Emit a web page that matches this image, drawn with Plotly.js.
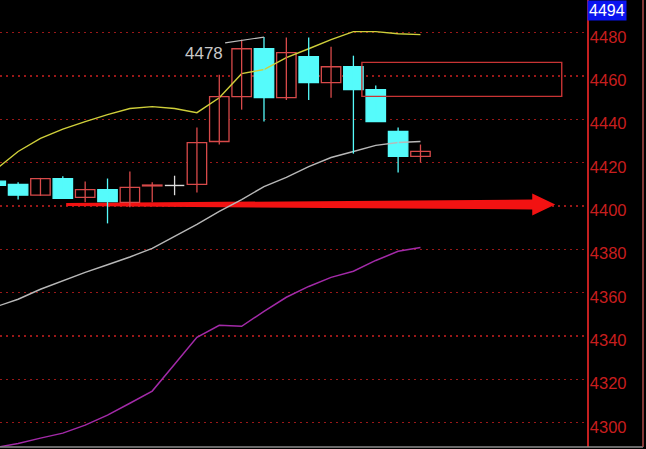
<!DOCTYPE html>
<html>
<head>
<meta charset="utf-8">
<script src="https://cdn.plot.ly/plotly-3.0.1.min.js"></script>
<style>
html,body{margin:0;padding:0;background:#000;}
#chart{width:646px;height:449px;}
</style>
</head>
<body>
<div id="chart"></div>
<script>
// ---- data ----
const idx   = [0,1,2,3,4,5,6,7,8,9,10,11,12,13,14,15,16,17,18,19];
const open  = [4411.5,4410.0,4405.0,4412.7,4404.0,4407.6,4401.7,4409.3,4409.5,4410.0,4429.8,4450.5,4472.6,4450.0,4468.9,4457.0,4464.3,4453.7,4434.4,4422.9];
const high  = [4412.5,4411.0,4413.0,4413.8,4411.3,4412.7,4416.0,4411.0,4414.0,4436.2,4460.6,4476.8,4478.0,4477.8,4477.8,4473.5,4469.4,4455.6,4436.2,4428.4];
const low   = [4408.0,4403.0,4404.7,4403.3,4401.7,4392.0,4399.4,4401.7,4405.0,4406.3,4428.4,4444.5,4439.0,4449.0,4449.0,4450.0,4424.2,4439.0,4415.5,4420.1];
const close = [4409.5,4405.0,4412.7,4403.5,4407.6,4402.0,4408.6,4409.7,4409.5,4429.3,4450.5,4472.6,4450.0,4470.8,4457.0,4464.3,4453.7,4439.0,4422.9,4425.2];
const upperBand = [4416.8,4425.2,4431.2,4435.5,4439.0,4442.2,4445.0,4445.9,4445.0,4443.1,4450.0,4461.1,4463.0,4468.5,4472.6,4476.8,4480.5,4480.5,4479.5,4479.1];
const midLine   = [4353.5,4357.0,4361.6,4365.5,4369.4,4372.9,4376.5,4380.5,4386.0,4391.5,4397.5,4403.0,4409.0,4413.2,4418.2,4422.4,4425.2,4428.0,4429.3,4429.8];
const lowerBand = [4288.6,4290.4,4292.9,4295.2,4298.9,4303.5,4309.0,4314.6,4327.0,4339.4,4345.0,4344.5,4351.4,4357.9,4362.9,4367.1,4369.9,4374.9,4379.1,4380.9];
const yTicks = [4300,4320,4340,4360,4380,4400,4420,4440,4460,4480];
const lastPriceLabel = '4494';
const highLabel = '4478';
const highIndex = 12;
const zone = {x0:16.38, x1:25.32, y0:4450.6, y1:4466.3};
const arrow = {from:3.15, shaftEnd:24.0, tip:25.03, level:4400.7};

// ---- styling ----
const RED = '#d84a4a', CYAN = '#55fbfb', WHITE = '#dcdcdc';
const BODY_W = 0.87;

// ---- build candle traces ----
function dirOf(i){ return close[i] > open[i] ? 'up' : (close[i] < open[i] ? 'down' : 'flat'); }
const groups = {up:[], down:[], flat:[]};
idx.forEach(i => groups[dirOf(i)].push(i));

function wickTrace(list, color){
  const x = [], y = [];
  list.forEach(i => { x.push(i, i, null); y.push(low[i], high[i], null); });
  return {type:'scatter', mode:'lines', x, y, line:{color, width:1.3}, hoverinfo:'skip'};
}
function flatTrace(list, color){
  const x = [], y = [];
  list.forEach(i => { x.push(i - BODY_W/2, i + BODY_W/2, null); y.push(open[i], open[i], null); });
  return {type:'scatter', mode:'lines', x, y, line:{color, width:1.4}, hoverinfo:'skip'};
}
function bodyTrace(list, fill, lineColor){
  return {type:'bar', x:list,
    base:list.map(i => Math.min(open[i], close[i])),
    y:list.map(i => Math.abs(close[i] - open[i])),
    width:list.map(() => BODY_W),
    marker:{color:fill, line:{color:lineColor, width:1.3}}, hoverinfo:'skip'};
}

const traces = [
  {type:'scatter', mode:'lines', x:idx, y:upperBand, line:{color:'#cfcf3a', width:1.4}, hoverinfo:'skip'},
  {type:'scatter', mode:'lines', x:idx, y:midLine,   line:{color:'#b8b8b8', width:1.4}, hoverinfo:'skip'},
  {type:'scatter', mode:'lines', x:idx, y:lowerBand, line:{color:'#a32aa8', width:1.5}, hoverinfo:'skip'},
  wickTrace(groups.up, RED),
  wickTrace(groups.down, CYAN),
  wickTrace(groups.flat, WHITE),
  flatTrace(groups.flat, WHITE),
  bodyTrace(groups.up, '#000000', RED),
  bodyTrace(groups.down, CYAN, CYAN)
];

const yMin = 4288.8, yMax = 4495.1;
const unitsPerPx = (yMax - yMin) / 447;
const tailH = 1.5*unitsPerPx, shaftH = 5*unitsPerPx, headH = 11*unitsPerPx;
const a = arrow;
const arrowPath = `M${a.from},${a.level+tailH} L${a.shaftEnd},${a.level+shaftH} L${a.shaftEnd},${a.level+headH} L${a.tip},${a.level} L${a.shaftEnd},${a.level-headH} L${a.shaftEnd},${a.level-shaftH} L${a.from},${a.level-tailH} Z`;

const layout = {
  width:646, height:449,
  margin:{l:0, r:59, t:0, b:2, pad:0},
  paper_bgcolor:'#000000', plot_bgcolor:'#000000',
  showlegend:false,
  barmode:'overlay',
  xaxis:{range:[0.19, 26.45], showgrid:false, zeroline:false, showticklabels:false, ticks:'', fixedrange:true},
  yaxis:{range:[yMin, yMax], side:'right', tickvals:yTicks, ticktext:yTicks.map(String),
         showgrid:true, gridcolor:'#9a1818', gridwidth:1.3, griddash:'1.5px,4.5px',
         zeroline:false, showline:true, linecolor:'#c42020', linewidth:1.5, ticks:'',
         tickfont:{family:'Liberation Sans, Arial, sans-serif', size:16.5, color:'#c81e1e'},
         ticklabelshift:4, ticklabelstandoff:-2, fixedrange:true},
  shapes:[
    {type:'path', xref:'x', yref:'y', path:arrowPath, fillcolor:'#f21212', line:{width:0}, layer:'between'},
    {type:'rect', xref:'x', yref:'y', x0:zone.x0, x1:zone.x1, y0:zone.y0, y1:zone.y1,
     line:{color:'#c83434', width:1.4}, fillcolor:'rgba(0,0,0,0)', layer:'above'},
    {type:'line', xref:'x', yref:'y', x0:10.26, y0:4475.3, x1:highIndex, y1:high[highIndex],
     line:{color:'#bdbdbd', width:1.2}, layer:'above'},
    {type:'line', xref:'paper', yref:'paper', x0:0, x1:643/587, y0:0, y1:0, line:{color:'#8c8c8c', width:1.5}},
    {type:'line', xref:'paper', yref:'paper', x0:643/587, x1:643/587, y0:0, y1:1, line:{color:'#b04a4a', width:1.5}}
  ],
  annotations:[
    {xref:'paper', yref:'paper', x:1.0, y:1.0, xanchor:'left', yanchor:'top', showarrow:false,
     text:lastPriceLabel, bgcolor:'#0a14f0', borderpad:1,
     font:{family:'Liberation Sans, Arial, sans-serif', size:16, color:'#ffffff'}},
    {xref:'x', yref:'y', x:9.3, y:4470.2, xanchor:'center', yanchor:'middle', showarrow:false,
     text:highLabel, font:{family:'Liberation Sans, Arial, sans-serif', size:17, color:'#c8c8c8'}}
  ]
};

Plotly.newPlot('chart', traces, layout, {displayModeBar:false, staticPlot:true});
</script>
</body>
</html>
